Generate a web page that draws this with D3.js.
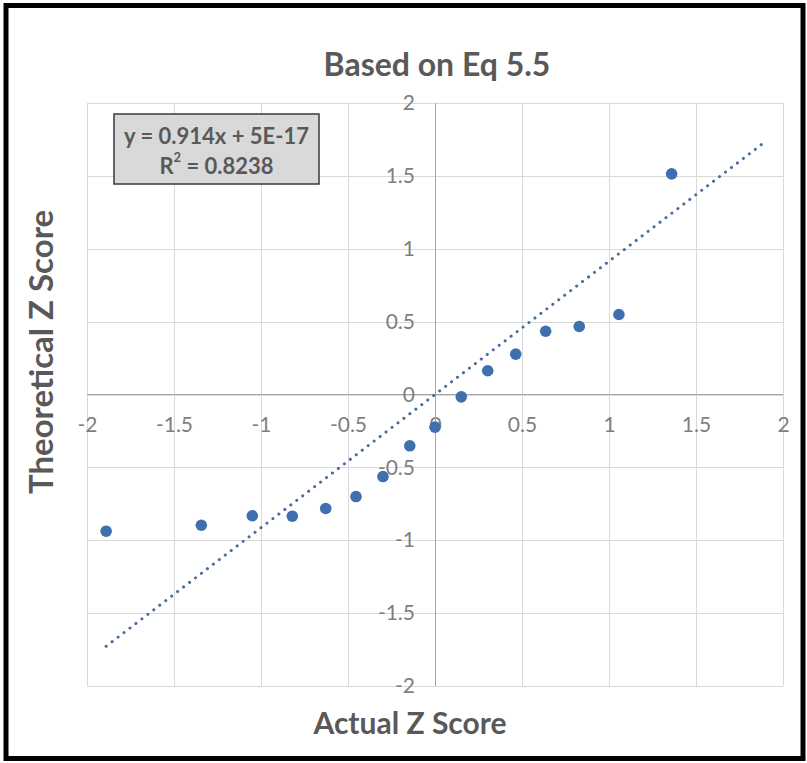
<!DOCTYPE html>
<html>
<head>
<meta charset="utf-8">
<script src="https://cdn.jsdelivr.net/npm/d3@7"></script>
<style>
  html, body { margin: 0; padding: 0; background: #ffffff; }
  svg { display: block; font-family: Lato, "Open Sans", sans-serif; }
</style>
</head>
<body>
<svg id="chart" width="807" height="763"></svg>
<script>
// Observed (actual) vs expected (theoretical) z scores
const actualZ = [-1.89, -1.343, -1.05, -0.82, -0.628, -0.454, -0.299, -0.145, 0, 0.151, 0.303, 0.464, 0.636, 0.829, 1.057, 1.36];
const theoreticalZ = [-0.938, -0.897, -0.832, -0.835, -0.782, -0.70, -0.563, -0.352, -0.224, -0.016, 0.163, 0.277, 0.434, 0.467, 0.549, 1.514];

// Linear trendline and its reported fit
const trendSlope = 0.914;
const trendIntercept = 5e-17;
const trendXExtent = [-1.89, 1.876];
const trendLabel = "y = 0.914x + 5E-17";
const rSquaredValue = "0.8238";

// Axis ticks
const xTicks = [-2, -1.5, -1, -0.5, 0, 0.5, 1, 1.5, 2];
const yTicks = [-2, -1.5, -1, -0.5, 0, 0.5, 1, 1.5, 2];

const chartTitle = "Based on Eq 5.5";
const xTitle = "Actual Z Score";
const yTitle = "Theoretical Z Score";

const svg = d3.select("#chart");
const plot = { left: 87, right: 783, top: 103, bottom: 686 };

const x = d3.scaleLinear().domain([-2, 2]).range([plot.left, plot.right]);
const y = d3.scaleLinear().domain([-2, 2]).range([plot.bottom, plot.top]);

const gridColor = "#d9d9d9";
const axisColor = "#a6a6a6";
const labelColor = "#7f7f7f";
const titleColor = "#595959";
const fmt = d => String(d);

// Gridlines
const gx = svg.append("g")
  .attr("transform", `translate(0,${plot.bottom})`)
  .call(d3.axisBottom(x).tickValues(xTicks).tickSize(-(plot.bottom - plot.top)).tickFormat(""));
const gy = svg.append("g")
  .attr("transform", `translate(${plot.left},0)`)
  .call(d3.axisLeft(y).tickValues(yTicks).tickSize(-(plot.right - plot.left)).tickFormat(""));
[gx, gy].forEach(g => {
  g.select(".domain").remove();
  g.selectAll(".tick line").attr("stroke", gridColor).attr("stroke-width", 1).attr("shape-rendering", "crispEdges");
});

// Axes crossing at zero
const xAxis = svg.append("g")
  .attr("transform", `translate(0,${y(0)})`)
  .call(d3.axisBottom(x).tickValues(xTicks).tickSize(0).tickPadding(23).tickFormat(fmt));
const yAxis = svg.append("g")
  .attr("transform", `translate(${x(0)},0)`)
  .call(d3.axisLeft(y).tickValues(yTicks).tickSize(0).tickPadding(20).tickFormat(fmt));
[xAxis, yAxis].forEach(g => {
  g.select(".domain").attr("stroke", axisColor).attr("stroke-width", 1).attr("shape-rendering", "crispEdges");
  g.selectAll(".tick text")
    .attr("fill", labelColor)
    .style("font-family", "Lato, sans-serif")
    .style("font-size", "21px");
});
xAxis.select(".domain").attr("d", `M${plot.left},0H${plot.right}`);
yAxis.select(".domain").attr("d", `M0,${plot.top}V${plot.bottom}`);

// Dotted trendline
const line = d3.line().x(d => x(d)).y(d => y(trendSlope * d + trendIntercept));
svg.append("path")
  .datum(trendXExtent)
  .attr("d", line)
  .attr("fill", "none")
  .attr("stroke", "#4a6d9c")
  .attr("stroke-width", 3)
  .attr("stroke-linecap", "round")
  .attr("stroke-dasharray", "0.1 7.4");

// Points
svg.append("g")
  .selectAll("circle")
  .data(actualZ.map((v, i) => [v, theoreticalZ[i]]))
  .join("circle")
  .attr("cx", d => x(d[0]))
  .attr("cy", d => y(d[1]))
  .attr("r", 5.8)
  .attr("fill", "#3f6fad");

// Chart title
svg.append("text")
  .attr("x", 437).attr("y", 63)
  .attr("text-anchor", "middle")
  .attr("dominant-baseline", "central")
  .attr("fill", titleColor)
  .style("font-size", "32px")
  .style("font-weight", 700)
  .text(chartTitle);

// Axis titles
svg.append("text")
  .attr("x", 410).attr("y", 722)
  .attr("text-anchor", "middle")
  .attr("dominant-baseline", "central")
  .attr("fill", titleColor)
  .style("font-size", "30px")
  .style("font-weight", 700)
  .text(xTitle);
svg.append("text")
  .attr("transform", "translate(40,352) rotate(-90)")
  .attr("text-anchor", "middle")
  .attr("dominant-baseline", "central")
  .attr("fill", titleColor)
  .style("font-size", "33px")
  .style("font-weight", 700)
  .text(yTitle);

// Trendline equation box
const eq = svg.append("g");
eq.append("rect")
  .attr("x", 114).attr("y", 114)
  .attr("width", 205).attr("height", 70)
  .attr("fill", "#d9d9d9")
  .attr("stroke", "#3a3a3a")
  .attr("stroke-width", 1.5);
eq.append("text")
  .attr("x", 216.5).attr("y", 135)
  .attr("text-anchor", "middle")
  .attr("dominant-baseline", "central")
  .attr("fill", titleColor)
  .style("font-size", "22px")
  .style("font-weight", 700)
  .text(trendLabel);
const r2 = eq.append("text")
  .attr("x", 216.5).attr("y", 165)
  .attr("text-anchor", "middle")
  .attr("dominant-baseline", "central")
  .attr("fill", titleColor)
  .style("font-size", "22px")
  .style("font-weight", 700);
r2.append("tspan").text("R");
r2.append("tspan").attr("baseline-shift", "super").style("font-size", "13px").text("2");
r2.append("tspan").text(" = " + rSquaredValue);

// Outer frame
svg.append("rect")
  .attr("x", 6).attr("y", 5.5)
  .attr("width", 797).attr("height", 753)
  .attr("fill", "none")
  .attr("stroke", "#000")
  .attr("stroke-width", 5);
</script>
</body>
</html>
